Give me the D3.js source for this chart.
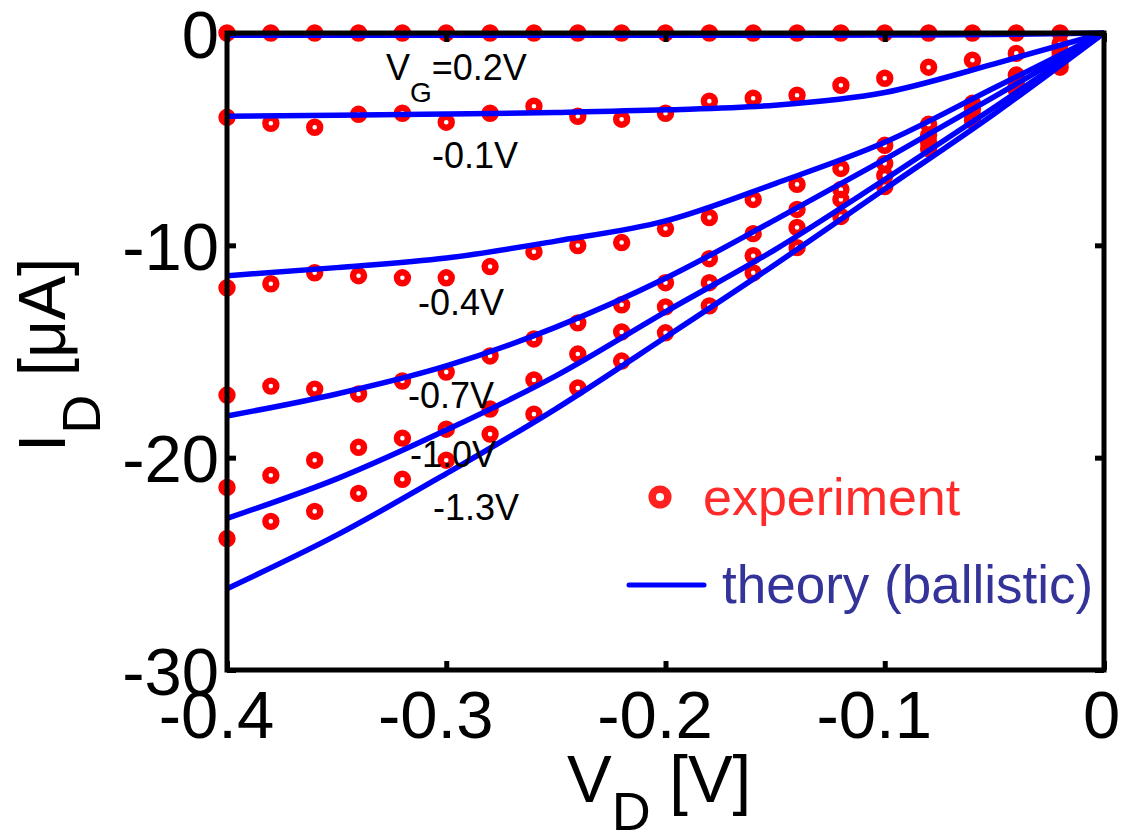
<!DOCTYPE html>
<html>
<head>
<meta charset="utf-8">
<script src="https://cdn.jsdelivr.net/npm/d3@7"></script>
<style>
html,body{margin:0;padding:0;background:#fff;}
svg{display:block;}
</style>
</head>
<body>
<svg id="chart" width="1122" height="832"></svg>
<script>
// ---------- data ----------
const vdExp = [-0.40,-0.38,-0.36,-0.34,-0.32,-0.30,-0.28,-0.26,-0.24,-0.22,-0.20,-0.18,-0.16,-0.14,-0.12,-0.10,-0.08,-0.06,-0.04,-0.02];
const expVG02  = [0,0,0,0,0,0,0,0,0,0,0,0,0,0,0,0,0,0,0,0];
const expVGm01 = [-3.97,-4.25,-4.44,-3.83,-3.78,-4.20,-3.78,-3.45,-3.92,-4.06,-3.78,-3.21,-3.07,-2.93,-2.46,-2.13,-1.61,-1.28,-0.96,-0.50];
const expVGm04 = [-12.0,-11.81,-11.29,-11.43,-11.53,-11.53,-11.0,-10.3,-10.01,-9.87,-9.21,-8.69,-7.84,-7.13,-6.38,-5.29,-4.30,-3.31,-1.98,-0.90];
const expVGm07 = [-17.05,-16.63,-16.77,-17.0,-16.39,-15.97,-15.21,-14.41,-13.65,-12.8,-11.76,-10.63,-9.45,-8.31,-7.37,-6.14,-4.82,-3.56,-2.22,-1.13];
const expVGm10 = [-21.4,-20.83,-20.12,-19.51,-19.08,-18.66,-17.71,-16.34,-15.12,-14.08,-12.9,-11.76,-10.49,-9.16,-7.84,-6.71,-5.15,-3.85,-2.46,-1.37];
const expVGm13 = [-23.81,-23.0,-22.53,-21.68,-21.02,-20.12,-18.89,-17.95,-16.72,-15.45,-14.12,-12.85,-11.29,-10.11,-8.64,-7.23,-5.45,-4.12,-2.69,-1.61];

const vdTheory = [-0.40,-0.35,-0.30,-0.25,-0.20,-0.15,-0.10,-0.05,0];
const thVG02  = [-0.11,-0.11,-0.11,-0.11,-0.11,-0.11,-0.10,-0.07,0];
const thVGm01 = [-3.92,-3.87,-3.82,-3.74,-3.62,-3.40,-2.80,-1.45,0];
const thVGm04 = [-11.43,-11.05,-10.6,-9.80,-8.85,-7.09,-5.15,-2.58,0];
const thVGm07 = [-18.04,-17.0,-15.68,-13.85,-11.55,-8.80,-5.95,-3.0,0];
const thVGm10 = [-22.86,-21.0,-18.7,-16.15,-13.13,-10.2,-6.9,-3.5,0];
const thVGm13 = [-26.17,-23.65,-20.75,-17.7,-14.33,-10.9,-7.35,-3.8,0];

const xTicks = [-0.4,-0.3,-0.2,-0.1,0];
const xTickLabels = ["-0.4","-0.3","-0.2","-0.1","0"];
const yTicks = [0,-10,-20,-30];
const yTickLabels = ["0","-10","-20","-30"];

const gateLabels = ["=0.2V","-0.1V","-0.4V","-0.7V","-1.0V","-1.3V"];
const legendLabels = ["experiment","theory (ballistic)"];

// ---------- layout ----------
const FONT = "'Liberation Sans', Arial, Helvetica, sans-serif";
const svg = d3.select("#chart");
svg.append("rect").attr("width",1122).attr("height",832).attr("fill","#fff");

const x = d3.scaleLinear().domain([-0.4,0]).range([227,1104]);
const y = d3.scaleLinear().domain([-30,0]).range([670,33]);

const expSeries = [expVG02,expVGm01,expVGm04,expVGm07,expVGm10,expVGm13];
const thSeries = [thVG02,thVGm01,thVGm04,thVGm07,thVGm10,thVGm13];

// experiment markers
const gExp = svg.append("g");
expSeries.forEach(s => {
  gExp.selectAll(null).data(s.map((v,i)=>[vdExp[i],v])).enter()
    .append("circle")
    .attr("cx",d=>x(d[0])).attr("cy",d=>y(d[1])).attr("r",5.5)
    .attr("fill","none").attr("stroke","#ff0000").attr("stroke-width",6.4);
});

// theory lines
const line = d3.line().x(d=>x(d[0])).y(d=>y(d[1])).curve(d3.curveMonotoneX);
const gTh = svg.append("g");
thSeries.forEach(s => {
  gTh.append("path").datum(s.map((v,i)=>[vdTheory[i],v]))
    .attr("d",line).attr("fill","none").attr("stroke","#0000ff")
    .attr("stroke-width",5.5).attr("stroke-linejoin","round");
});

// axes (box with inward ticks)
function styleTicks(g){
  g.select(".domain").remove();
  g.selectAll(".tick line").attr("stroke","#000").attr("stroke-width",5);
}
const gx = svg.append("g").attr("transform","translate(0,670)")
  .call(d3.axisBottom(x).tickValues(xTicks).tickSize(-9).tickFormat((d,i)=>xTickLabels[i]));
styleTicks(gx);
gx.selectAll(".tick text").attr("y",68).attr("dy",null)
  .attr("dx",d=>d<0?-11:-3)
  .attr("font-size",67).attr("font-family",FONT).attr("fill","#000");

const gxt = svg.append("g").attr("transform","translate(0,33)")
  .call(d3.axisTop(x).tickValues(xTicks).tickSize(-9).tickFormat(""));
styleTicks(gxt);

const gy = svg.append("g").attr("transform","translate(227,0)")
  .call(d3.axisLeft(y).tickValues(yTicks).tickSize(-9).tickFormat((d,i)=>yTickLabels[i]));
styleTicks(gy);
gy.selectAll(".tick text").attr("x",-8).attr("dy",24)
  .attr("text-anchor","end")
  .attr("font-size",67).attr("font-family",FONT).attr("fill","#000");

const gyr = svg.append("g").attr("transform","translate(1104,0)")
  .call(d3.axisRight(y).tickValues(yTicks).tickSize(-9).tickFormat(""));
styleTicks(gyr);

svg.append("rect").attr("x",227).attr("y",33).attr("width",877).attr("height",637)
  .attr("fill","none").attr("stroke","#000").attr("stroke-width",5);

// axis labels
const xl = svg.append("text").attr("x",567).attr("y",802)
  .attr("font-family",FONT).attr("font-size",67).attr("fill","#000");
xl.append("tspan").text("V");
xl.append("tspan").attr("font-size",54).attr("dy",28).text("D");
xl.append("tspan").attr("dy",-28).text("\u00a0[V]");

const yl = svg.append("text").attr("transform","translate(65,452) rotate(-90)")
  .attr("font-family",FONT).attr("font-size",66).attr("fill","#000");
yl.append("tspan").text("I");
yl.append("tspan").attr("font-size",54).attr("dy",35).text("D");
yl.append("tspan").attr("dy",-35).text("\u00a0[\u03bcA]");

// gate voltage annotations
const annFont = 36;
const vg = svg.append("text").attr("x",386).attr("y",80)
  .attr("font-family",FONT).attr("font-size",annFont).attr("fill","#000");
vg.append("tspan").text("V");
vg.append("tspan").attr("font-size",28).attr("dy",22).text("G");
vg.append("tspan").attr("dy",-22).text(gateLabels[0]);

const annPos = [[432,168],[418,315],[408,408],[410,467],[433,520]];
annPos.forEach((p,i)=>{
  svg.append("text").attr("x",p[0]).attr("y",p[1])
    .attr("font-family",FONT).attr("font-size",annFont).attr("fill","#000")
    .text(gateLabels[i+1]);
});

// legend
svg.append("circle").attr("cx",660).attr("cy",497).attr("r",7.8)
  .attr("fill","none").attr("stroke","#ff2020").attr("stroke-width",7.5);
svg.append("text").attr("x",703).attr("y",515)
  .attr("font-family",FONT).attr("font-size",52).attr("fill","#ff2a2a")
  .text(legendLabels[0]);
svg.append("line").attr("x1",629).attr("x2",704).attr("y1",585).attr("y2",585)
  .attr("stroke","#0000ff").attr("stroke-width",5).attr("stroke-linecap","round");
svg.append("text").attr("x",722).attr("y",603)
  .attr("font-family",FONT).attr("font-size",53).attr("fill","#333399")
  .text(legendLabels[1]);
</script>
</body>
</html>
